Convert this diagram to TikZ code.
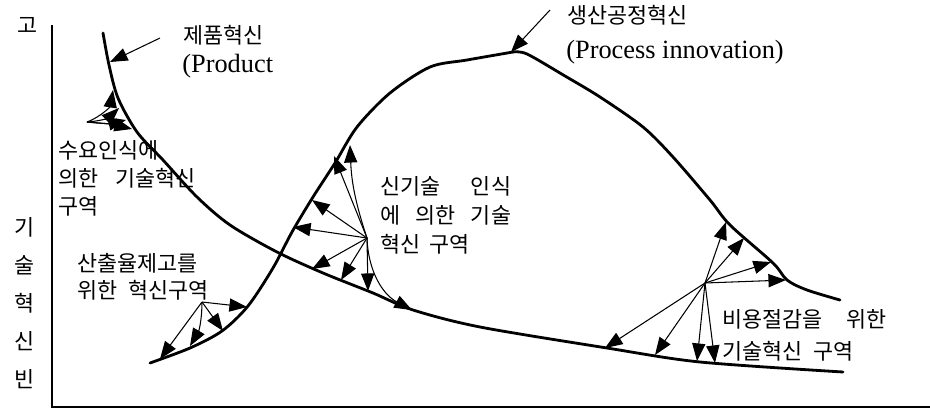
\documentclass[tikz,border=0pt]{standalone}
\usepackage{fontspec}
\setmainfont{Liberation Serif}
\newfontfamily\krfont{Noto Sans CJK KR}
\usetikzlibrary{arrows.meta}

\begin{document}
\begin{tikzpicture}[x=0.02cm, y=-0.02cm,
  curve/.style={line width=1.6pt, line join=round, line cap=round},
  arr/.style={line width=0.6pt, -{Triangle[length=10pt, width=7.5pt]}},
  hangul/.style={font=\krfont\fontsize{12.4}{14}\selectfont, inner sep=0pt},
  latin/.style={font=\fontsize{15}{17}\selectfont, inner sep=0pt}]
  \useasboundingbox (0,0) rectangle (930,410);

  \draw[line width=1.6pt] (52,25) -- (52,407) -- (930,407);
  \node[hangul] (axhigh) at (28,25) {고};
  \node[hangul] (axv1) at (25,227) {기};
  \node[hangul] (axv2) at (25,265) {술};
  \node[hangul] (axv3) at (25,303) {혁};
  \node[hangul] (axv4) at (25,341) {신};
  \node[hangul] (axv5) at (25,379) {빈};

  \draw[curve] plot[smooth, tension=0.5] coordinates {(103,33) (109,65) (118,98) (137,132) (163,160) (197,197) (230,225) (277,252) (323,273) (373,293) (413,310) (480,327) (607,348) (700,362) (843,372)};
  \draw[curve] plot[smooth, tension=0.5] coordinates {(150,363) (190,348) (222,331) (248,306) (273,268) (292,232) (313,197) (335,163) (357,127) (390,93) (430,67) (467,60) (513,52)};
  \draw[curve] plot[smooth, tension=0.5] coordinates {(513,52) (527,54) (565,76) (600,97) (643,127) (673,157) (710,200) (730,225) (773,263) (787,280) (807,290) (840,300)};

  \node[hangul, anchor=west] (prodkr) at (183,35) {제품혁신};
  \node[latin, anchor=west] (proden) at (182,66) {(Product};
  \coordinate (prodfrom) at (160,38);
  \coordinate (prodto) at (110,62);
  \draw[arr] (prodfrom) -- (prodto);

  \node[hangul, anchor=west] (prockr) at (567,15) {생산공정혁신};
  \node[latin, anchor=west] (procen) at (566,52) {(Process innovation)};
  \coordinate (procfrom) at (550,10);
  \coordinate (procto) at (511,52);
  \draw[arr] (procfrom) -- (procto);

  \node[hangul, anchor=west] (demand1) at (58,150) {수요인식에};
  \node[hangul, anchor=west] (demand2) at (58,178) {의한\hspace{0.8em}기술혁신};
  \node[hangul, anchor=west] (demand3) at (58,206) {구역};
  \coordinate (dhub) at (87,122);
  \coordinate (d1) at (113,90);
  \coordinate (d2) at (119,108);
  \coordinate (d3) at (126,120);
  \coordinate (d4) at (132,129);
  \draw[arr] (dhub) to[bend right=30] (d1);
  \draw[arr] (dhub) to[bend right=20] (d2);
  \draw[arr] (dhub) to[bend right=10] (d3);
  \draw[arr] (dhub) to[bend left=5] (d4);

  \node[hangul, anchor=west] (output1) at (77,263) {산출율제고를};
  \node[hangul, anchor=west] (output2) at (77,290) {위한\hspace{0.5em}혁신구역};
  \coordinate (ohub) at (202,302);
  \coordinate (o1) at (247,307);
  \coordinate (o2) at (223,331);
  \coordinate (o3) at (190,346);
  \coordinate (o4) at (160,359);
  \draw[arr] (ohub) -- (o1);
  \draw[arr] (ohub) -- (o2);
  \draw[arr] (ohub) to[bend left=15] (o3);
  \draw[arr] (ohub) -- (o4);

  \node[hangul, anchor=west] (newtech1) at (380,186) {신기술\hspace{1.4em}인식};
  \node[hangul, anchor=west] (newtech2) at (380,215) {에\hspace{0.7em}의한\hspace{0.7em}기술};
  \node[hangul, anchor=west] (newtech3) at (380,244) {혁신\hspace{0.4em}구역};
  \coordinate (mhub) at (367,238);
  \coordinate (m1) at (350,145);
  \coordinate (m2) at (334,156);
  \coordinate (m3) at (312,200);
  \coordinate (m4) at (293,227);
  \coordinate (m5) at (312,269);
  \coordinate (m6) at (341,280);
  \coordinate (m7) at (368,291);
  \coordinate (m8) at (412,310);
  \draw[arr] (mhub) to[bend left=8] (m1);
  \draw[arr] (mhub) -- (m2);
  \draw[arr] (mhub) -- (m3);
  \draw[arr] (mhub) -- (m4);
  \draw[arr] (mhub) -- (m5);
  \draw[arr] (mhub) -- (m6);
  \draw[arr] (mhub) -- (m7);
  \draw[arr] (mhub) to[bend right=30] (m8);

  \node[hangul, anchor=west] (cost1) at (722,319) {비용절감을\hspace{1.1em}위한};
  \node[hangul, anchor=west] (cost2) at (722,351) {기술혁신\hspace{0.5em}구역};
  \coordinate (rhub) at (705,283);
  \coordinate (r1) at (726,222);
  \coordinate (r2) at (744,238);
  \coordinate (r3) at (771,262);
  \coordinate (r4) at (786,280);
  \coordinate (r5) at (605,348);
  \coordinate (r6) at (655,355);
  \coordinate (r7) at (697,361);
  \coordinate (r8) at (715,363);
  \draw[arr] (rhub) -- (r1);
  \draw[arr] (rhub) -- (r2);
  \draw[arr] (rhub) -- (r3);
  \draw[arr] (rhub) -- (r4);
  \draw[arr] (rhub) -- (r5);
  \draw[arr] (rhub) -- (r6);
  \draw[arr] (rhub) -- (r7);
  \draw[arr] (rhub) -- (r8);
\end{tikzpicture}
\end{document}
